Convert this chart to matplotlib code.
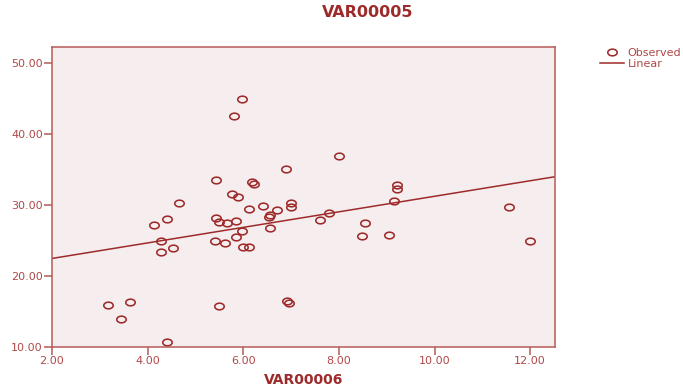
import numpy as np
import matplotlib
matplotlib.use("Agg")
import matplotlib.pyplot as plt
from matplotlib.lines import Line2D

plt.rcParams["font.family"] = ["DejaVu Sans"]

DARK = "#9e2b2b"
TICK = "#b04848"
BG = "#f6eeee"

# observed points (VAR00006, VAR00005)
var6 = [5.97, 5.80, 8.00, 6.90, 5.44, 6.18, 6.22, 5.77, 5.90, 4.66,
        7.00, 7.00, 6.42, 6.11, 6.71, 7.79, 6.55, 6.53, 7.60, 4.40,
        5.44, 5.49, 5.65, 5.85, 4.13, 6.55, 5.97, 5.85, 4.27, 5.40,
        5.62, 6.00, 6.12, 4.53, 4.27, 3.18, 3.63, 3.44, 5.49, 6.92,
        6.95, 4.41, 9.15, 9.22, 9.22, 8.55, 8.48, 9.04, 11.55, 12.00]
var5 = [44.9, 42.5, 36.9, 35.0, 33.5, 33.15, 32.9, 31.5, 31.1, 30.2,
        30.3, 29.7, 29.9, 29.4, 29.3, 28.8, 28.55, 28.3, 27.85, 28.0,
        28.2, 27.6, 27.4, 27.75, 27.2, 26.8, 26.35, 25.5, 24.9, 24.9,
        24.65, 24.1, 24.05, 23.95, 23.4, 15.97, 16.3, 13.95, 15.7, 16.45,
        16.15, 10.7, 30.5, 32.8, 32.2, 27.4, 25.6, 25.7, 29.7, 24.9]

# linear fit as drawn
intercept, slope = 20.27, 1.093
xticks = [2, 4, 6, 8, 10, 12]
yticks = [10, 20, 30, 40, 50]

# the source image is stretched sideways, so circles come out as ellipses
t = np.linspace(0, 2 * np.pi, 41)
ELLIPSE = np.column_stack([1.42 * np.cos(t), np.sin(t)])

fig = plt.figure(figsize=(6.83, 3.91), dpi=100)
ax = fig.add_axes([0.0761, 0.1125, 0.8126 - 0.0761, 0.8798 - 0.1125])
ax.set_facecolor(BG)

ax.plot(var6, var5, marker=ELLIPSE, ms=6.8, mfc="none", mec=DARK,
        mew=1.15, linestyle="none")
xl = np.array([2.0, 12.52])
ax.plot(xl, intercept + slope * xl, color=DARK, lw=1.1)

ax.set_xlim(2.0, 12.52)
ax.set_ylim(10.0, 52.2)
ax.set_xticks(xticks)
ax.set_yticks(yticks)
ax.set_xticklabels([f"{v:.2f}" for v in xticks])
ax.set_yticklabels([f"{v:.2f}" for v in yticks])
for s in ax.spines.values():
    s.set_color("#b55a5a")
    s.set_linewidth(1.1)
ax.tick_params(colors="#b55a5a", labelcolor=TICK, labelsize=8,
               length=6, width=1.1, pad=0.5)

fig.text(0.4444, 0.0294, "VAR00006", color=DARK, fontsize=10,
         fontweight="bold", ha="center", va="center")
fig.text(0.539, 0.9685, "VAR00005", color=DARK, fontsize=11.5,
         fontweight="bold", ha="center", va="center")

handles = [Line2D([], [], marker=ELLIPSE, ls="none", mfc="none", mec=DARK,
                  ms=6.8, mew=1.15),
           Line2D([], [], color=DARK, lw=1.1)]
leg = fig.legend(handles, ["Observed", "Linear"], loc="upper left",
                 bbox_to_anchor=(0.872, 0.888), frameon=False,
                 fontsize=8, handlelength=2.2, handletextpad=0.3,
                 labelspacing=0.05, borderaxespad=0)
for txt in leg.get_texts():
    txt.set_color(TICK)

fig.savefig("out.png", dpi=100)
